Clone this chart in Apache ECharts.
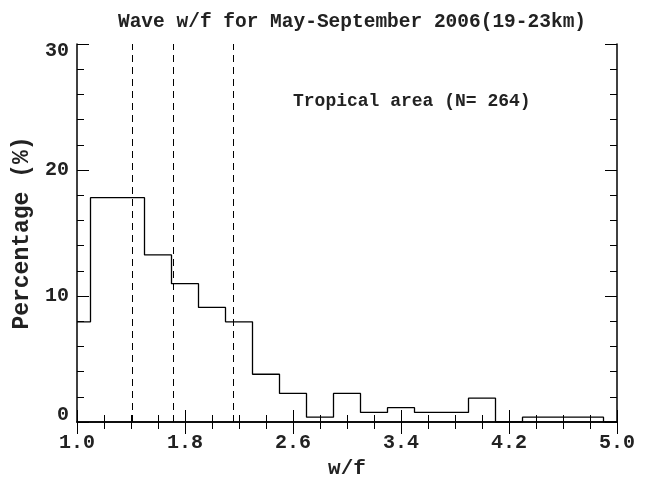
<!DOCTYPE html>
<html>
<head>
<meta charset="utf-8">
<script src="https://cdn.jsdelivr.net/npm/echarts@6/dist/echarts.min.js"></script>
<style>
  html, body { margin: 0; padding: 0; background: #fff; }
  #chart { width: 646px; height: 484px; }
</style>
</head>
<body>
<div id="chart"></div>
<script>
// histogram bin centres (w/f) and percentage per bin, N = 264
let binCenters = [1.0, 1.2, 1.4, 1.6, 1.8, 2.0, 2.2, 2.4, 2.6, 2.8, 3.0, 3.2, 3.4, 3.6, 3.8, 4.0, 4.2, 4.4, 4.6, 4.8, 5.0]
let percents = [7.95, 17.8, 17.8, 13.26, 10.98, 9.09, 7.95, 3.79, 2.27, 0.38, 2.27, 0.76, 1.14, 0.76, 0.76, 1.89, 0, 0.38, 0.38, 0.38, 0]
// dashed reference lines
let refLines = [1.405, 1.706, 2.163]
let sampleCount = 264

let font = 'Liberation Mono'
let ink = '#222'

let myChart = echarts.init(document.getElementById('chart'))

let histData = binCenters.map((x, i) => [x, percents[i]])

let axisCommon = {
    type: 'value',
    axisLine: { show: true, lineStyle: { color: '#000', width: 1.5 } },
    axisTick: { show: true, inside: true, length: 12, lineStyle: { color: '#000', width: 1 } },
    minorTick: { show: true, length: 7, lineStyle: { color: '#000', width: 1 } },
    splitLine: { show: false },
    minorSplitLine: { show: false }
}

let option = {
    animation: false,
    title: {
        text: 'Wave w/f for May-September 2006(19-23km)',
        left: 347,
        textAlign: 'center',
        top: 7,
        textStyle: { fontFamily: font, fontWeight: 'bold', fontSize: 19.5, color: ink }
    },
    grid: { left: 77, right: 29, top: 44, bottom: 58 },
    xAxis: [
        Object.assign({}, axisCommon, {
            position: 'bottom',
            min: 1.0, max: 5.0, interval: 0.8,
            minorTick: Object.assign({}, axisCommon.minorTick, { splitNumber: 4 }),
            name: 'w/f',
            nameLocation: 'middle',
            nameGap: 36,
            nameTextStyle: { fontFamily: font, fontWeight: 'bold', fontSize: 21, color: ink },
            axisLabel: {
                margin: 11, fontFamily: font, fontWeight: 'bold', fontSize: 20, color: ink,
                formatter: v => v.toFixed(1)
            }
        }),
        Object.assign({}, axisCommon, {
            position: 'top',
            min: 1.0, max: 5.0, interval: 0.8,
            minorTick: Object.assign({}, axisCommon.minorTick, { splitNumber: 4 }),
            axisLabel: { show: false }
        })
    ],
    yAxis: [
        Object.assign({}, axisCommon, {
            position: 'left',
            min: 0, max: 30, interval: 10,
            minorTick: Object.assign({}, axisCommon.minorTick, { splitNumber: 5 }),
            name: 'Percentage (%)',
            nameLocation: 'middle',
            nameGap: 42,
            nameTextStyle: { fontFamily: font, fontWeight: 'bold', fontSize: 23, color: ink },
            axisLabel: {
                margin: 8, fontFamily: font, fontWeight: 'bold', fontSize: 20, lineHeight: 14, color: ink,
                verticalAlignMaxLabel: 'top', verticalAlignMinLabel: 'bottom'
            }
        }),
        Object.assign({}, axisCommon, {
            position: 'right',
            min: 0, max: 30, interval: 10,
            minorTick: Object.assign({}, axisCommon.minorTick, { splitNumber: 5 }),
            axisLabel: { show: false }
        })
    ],
    graphic: [
        {
            type: 'text',
            left: 293,
            top: 92,
            style: {
                text: 'Tropical area (N= ' + sampleCount + ')',
                font: 'bold 18px "' + font + '"',
                fill: ink
            }
        }
    ],
    series: [
        {
            name: 'histogram',
            type: 'line',
            step: 'middle',
            data: histData,
            showSymbol: false,
            lineStyle: { color: '#000', width: 1.3 },
            markLine: {
                silent: true,
                symbol: 'none',
                label: { show: false },
                lineStyle: { color: '#000', width: 1, type: [7, 5] },
                data: refLines.map(x => ({ xAxis: x }))
            }
        }
    ]
}

myChart.setOption(option)
</script>
</body>
</html>
